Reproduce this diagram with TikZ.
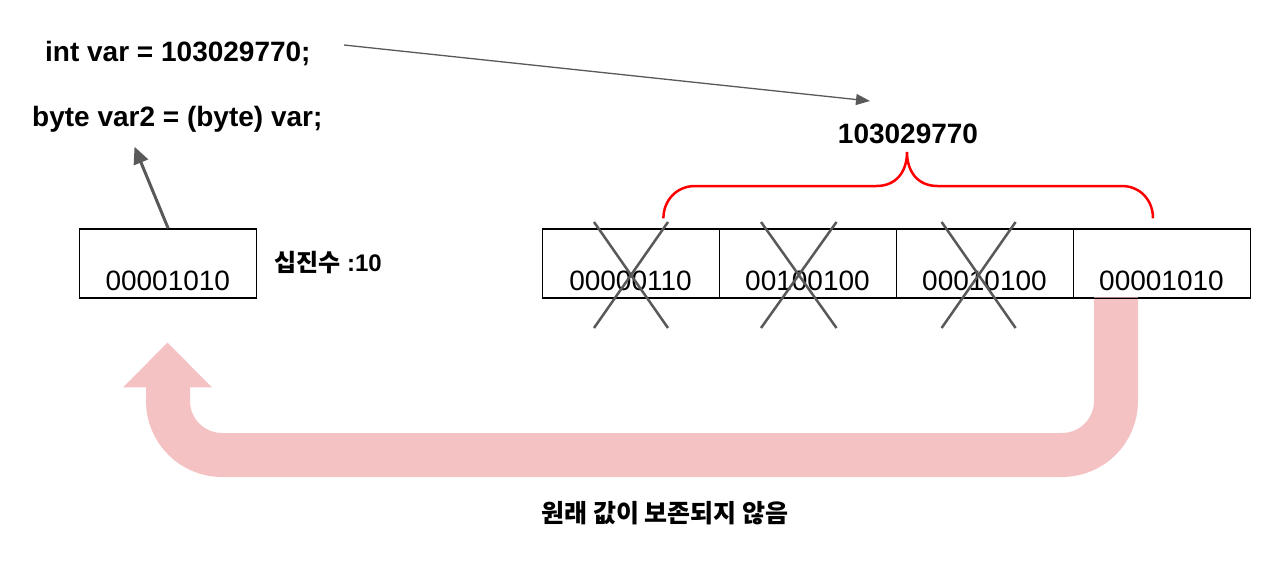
\documentclass[tikz,border=0pt]{standalone}
\usepackage{fontspec}
\setmainfont{Liberation Sans}
\newfontfamily\kr{Noto Sans CJK KR}
\usetikzlibrary{arrows.meta}
\definecolor{darkg}{HTML}{595959}
\definecolor{pinkc}{HTML}{F4C2C3}
\definecolor{redc}{HTML}{FF0000}
\tikzset{
  code/.style={anchor=base west, inner sep=0pt, font=\bfseries\fontsize{28}{32}\selectfont},
  cell/.style={draw=black, line width=1.3pt, minimum width=177pt, minimum height=69pt, inner sep=0pt, anchor=north west},
  celltext/.style={anchor=base, inner sep=0pt, font=\fontsize{28}{32}\selectfont},
  thinarrow/.style={darkg, line width=1.3pt, -{Triangle[length=14pt,width=11pt]}},
  thickarrow/.style={darkg, line width=3pt, -{Triangle[length=17pt,width=15pt]}},
  crossline/.style={darkg, line width=2.5pt},
  bracel/.style={redc, line width=2.5pt},
  band/.style={pinkc, line width=44pt, rounded corners=54pt},
}
\begin{document}
\begin{tikzpicture}[x=1pt,y=-1pt]
\useasboundingbox (0,0) rectangle (1286,576);
% code lines
\node[code] (intvar) at (45,61.7) {int var = 103029770;};
\node[code] (bytevar) at (32,126.7) {byte var2 = (byte) var;};
\node[anchor=base, inner sep=0pt, font=\bfseries\fontsize{28}{32}\selectfont] (num) at (908,143.5) {103029770};
% left box
\node[cell] (lbox) at (79,228.3) {};
\node[celltext] (ltext) at (167.8,290.8) {00001010};
\node[anchor=base west, inner sep=0pt, font=\bfseries\fontsize{24}{28}\selectfont] (dec) at (274,271.7) {{\kr 십진수}\ :10};
% right boxes
\node[cell] (b1) at (542,228.3) {};
\node[cell] (b2) at (719,228.3) {};
\node[cell] (b3) at (896,228.3) {};
\node[cell] (b4) at (1073,228.3) {};
\node[celltext] (t1) at (630.5,290.8) {00000110};
\node[celltext] (t2) at (807.5,290.8) {00100100};
\node[celltext] (t3) at (984.5,290.8) {00010100};
\node[celltext] (t4) at (1161.5,290.8) {00001010};
% pink U-turn arrow
\coordinate (pstart) at (1116,297.3);
\coordinate (pend) at (168,385);
\draw[band] (pstart) -- (1116,455) -- (168,455) -- (pend);
\fill[pinkc] (123,387.3) -- (212,387.3) -- (167.5,342.7) -- cycle;
% redraw box bottom edge over band
\draw[line width=1.3pt] (b4.south west) -- (b4.south east);
% crosses
\foreach \xa/\xb in {594/668, 761/836.5, 941.6/1015.6}{
  \draw[crossline] (\xa,222) -- (\xb,328);
  \draw[crossline] (\xb,222) -- (\xa,328);
}
% brace
\draw[bracel] (663.4,218.3) .. controls (663.4,200) and (677,186) .. (695,186)
  -- (876.5,186) .. controls (896,186) and (907,172) .. (907,152)
  .. controls (907,172) and (918,186) .. (937.5,186)
  -- (1121.7,186) .. controls (1140,186) and (1153,200) .. (1153,218.3);
% arrows
\coordinate (a1) at (344,45);
\coordinate (a2) at (870,101);
\draw[thinarrow] (a1) -- (a2);
\coordinate (c2) at (134.5,146.7);
\draw[thickarrow] (lbox.north) -- (c2);
% bottom caption
\node[anchor=base, inner sep=0pt, font=\kr\bfseries\fontsize{25}{29}\selectfont] (cap) at (665,522.5) {원래 값이 보존되지 않음};
\end{tikzpicture}
\end{document}
